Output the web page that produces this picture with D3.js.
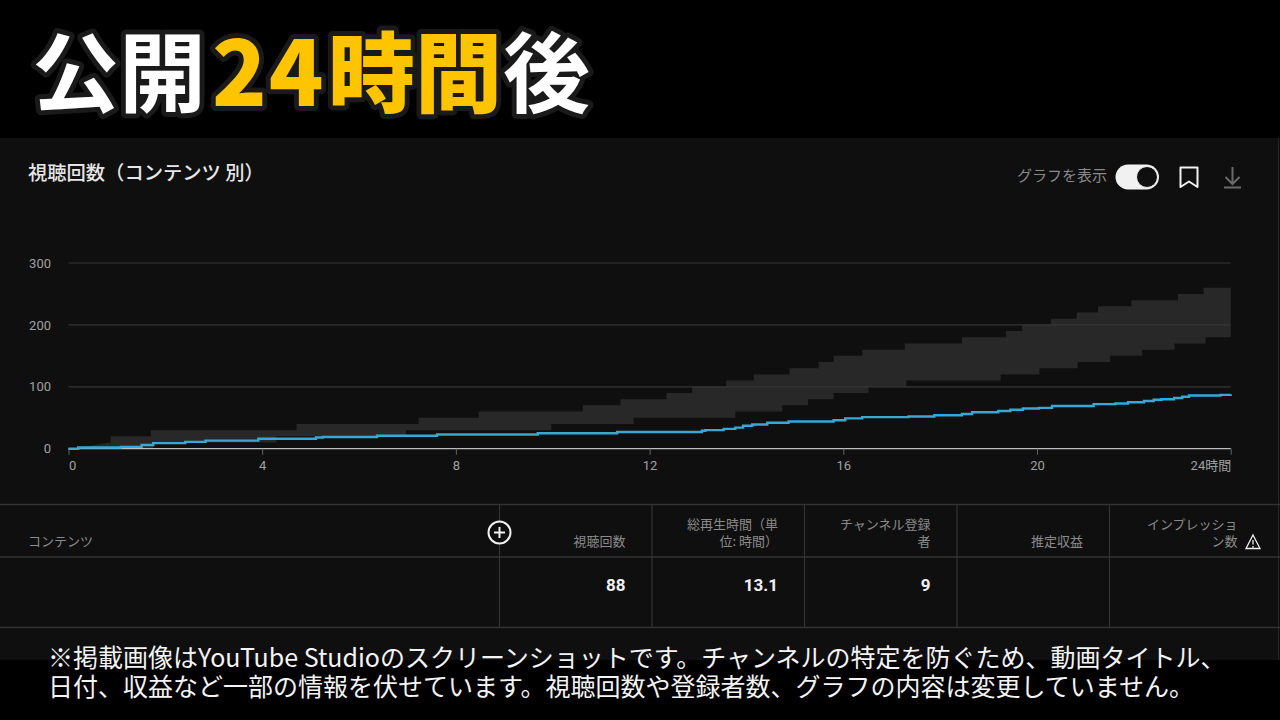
<!DOCTYPE html>
<html lang="ja"><head><meta charset="utf-8">
<script src="https://cdn.jsdelivr.net/npm/d3@7"></script>
<style>html,body{margin:0;padding:0;background:#000;overflow:hidden}svg{display:block}text{font-family:"Noto Sans CJK JP","Noto Sans",sans-serif}</style>
</head><body><svg id="c" width="1280" height="720"></svg>
<script>
const upperHours=[0,0.87,1.70,4.71,7.23,8.47,10.62,11.40,12.35,12.88,13.58,14.15,14.89,15.49,15.80,16.39,17.27,18.45,19.36,19.69,20.29,20.82,21.26,21.95,22.91,23.44,24];
const upperValues=[0,20,30,40,50,60,70,80,90,100,110,120,130,140,150,160,170,180,190,200,210,220,230,240,250,260,260];
const lowerHours=[0,1.75,4.29,6.97,9.97,11.67,13.77,14.74,15.27,15.80,16.52,17.30,19.25,20.05,20.84,21.51,22.17,22.84,23.48,24];
const lowerValues=[0,10,20,30,40,50,60,70,80,90,100,110,120,130,140,150,160,170,180,180];
const wedgeHours=[0.2,0.87];
const wedgeValues=[2,10];
const viewHours=[0,0.20,1.08,1.51,1.75,2.41,2.83,3.92,5.11,5.25,6.37,7.61,9.69,11.33,13.08,13.15,13.53,13.77,13.93,14.12,14.43,14.87,15.80,16.04,16.39,17.35,17.88,18.45,18.66,19.20,19.45,19.71,20.04,20.31,21.17,21.62,21.88,22.21,22.41,22.57,22.83,23.00,23.14,23.79,24];
const viewValues=[0,2,3,6,9,11,13,16,18,19,21,23,25,27,29,30,32,34,37,39,42,44,46,49,51,52,54,56,59,61,63,65,66,69,72,73,75,77,79,80,82,84,86,87,88];
const yTicks=[0,100,200,300];
const xTicks=[0,4,8,12,16,20,24];
const columnEdges=[499.5,652,804.5,957,1109.5];
const headerLines=[["視聴回数"],["総再生時間（単","位: 時間）"],["チャンネル登録","者"],["推定収益"],["インプレッショ","ン数"]];
const rowValues=["88","13.1","9","",""];
const captionLines=["※掲載画像はYouTube Studioのスクリーンショットです。チャンネルの特定を防ぐため、動画タイトル、","日付、収益など一部の情報を伏せています。視聴回数や登録者数、グラフの内容は変更していません。"];
const titleTexts=["公開","24","時間","後"];
const titleColors=["#ffffff","#ffc400","#ffc400","#ffffff"];

const svg=d3.select("#c");
svg.append("rect").attr("width",1280).attr("height",720).attr("fill","#000");
svg.append("rect").attr("y",138).attr("width",1280).attr("height",522).attr("fill","#0f0f0f");
svg.append("line").attr("x1",1278.5).attr("x2",1278.5).attr("y1",138).attr("y2",660).attr("stroke","#262626");

// title: heavier yellow run, digits slightly larger and tracked
const titleLeft=[32,212,328,503];
const titleSize=[87,90,87,87];
const titleWeight=[700,900,900,700];
const titleTrack=[0,2,0,0];
const title=svg.append("text").attr("y",106)
  .attr("stroke","#1a1a1a").attr("stroke-width",10).attr("stroke-linejoin","round").attr("paint-order","stroke");
title.selectAll("tspan").data(titleTexts).join("tspan")
  .attr("x",(d,i)=>titleLeft[i]).attr("font-size",(d,i)=>titleSize[i]).attr("font-weight",(d,i)=>titleWeight[i])
  .attr("letter-spacing",(d,i)=>titleTrack[i]).attr("fill",(d,i)=>titleColors[i]).text(d=>d);

svg.append("text").attr("x",28).attr("y",179.5).attr("font-size",19.3).attr("font-weight",500).attr("fill","#e6e6e6").text("視聴回数（コンテンツ 別）");

// toolbar
svg.append("text").attr("x",1107).attr("y",181).attr("text-anchor","end").attr("font-size",15).attr("fill","#8a8a8a").text("グラフを表示");
svg.append("rect").attr("x",1115.5).attr("y",164.5).attr("width",43.5).attr("height",25).attr("rx",12.5).attr("fill","#f1f1f1");
svg.append("circle").attr("cx",1147).attr("cy",177).attr("r",10.5).attr("fill","#0f0f0f").attr("stroke","#f1f1f1").attr("stroke-width",1);
svg.append("path").attr("d","M1180.5 167.5H1197.5V187L1189 181.5L1180.5 187Z").attr("fill","none").attr("stroke","#f1f1f1").attr("stroke-width",2).attr("stroke-linejoin","round");
svg.append("path").attr("d","M1232.5 167V184M1225.5 177L1232.5 184L1239.5 177M1224 187.5H1241").attr("fill","none").attr("stroke","#6a6a6a").attr("stroke-width",2);

// chart
const x=d3.scaleLinear().domain([0,24]).range([68.5,1230.7]);
const y=d3.scaleLinear().domain([0,300]).range([448.7,263]);
const hours=Array.from(new Set(upperHours.concat(lowerHours))).sort(d3.ascending);
const stepVal=(hs,vs,h)=>vs[d3.bisectRight(hs,h)-1];
const area=d3.area().curve(d3.curveStepAfter).x(d=>x(d)).y0(d=>y(stepVal(lowerHours,lowerValues,d))).y1(d=>y(stepVal(upperHours,upperValues,d)));
svg.append("path").datum(hours).attr("d",area).attr("fill","#282828");
svg.append("path").datum(d3.range(wedgeHours.length))
  .attr("d",d3.area().x(i=>x(wedgeHours[i])).y0(y(0)).y1(i=>y(wedgeValues[i]))).attr("fill","#282828");

const gy=svg.append("g").call(d3.axisLeft(y).tickValues(yTicks).tickSize(0).tickPadding(0));
gy.attr("transform","translate(51,0)");
gy.select(".domain").remove();
gy.selectAll("text").attr("font-size",13).attr("fill","#a0a0a0").style("font-family","Roboto,sans-serif").attr("x",0);
svg.append("g").selectAll("line").data(yTicks.filter(d=>d>0)).join("line")
  .attr("x1",x(0)).attr("x2",x(24)).attr("y1",d=>y(d)).attr("y2",d=>y(d)).attr("stroke","#363636").attr("stroke-width",1.2);

const gx=svg.append("g").attr("transform",`translate(0,${y(0)})`)
  .call(d3.axisBottom(x).tickValues(xTicks).tickSize(6).tickPadding(6).tickFormat(d=>d===24?"24時間":d));
gx.select(".domain").attr("stroke","#bdbdbd").attr("stroke-width",1.3).attr("d",`M${x(0)},0H${x(24)}`);
gx.selectAll(".tick line").attr("stroke","#666");
gx.selectAll("text").attr("font-size",13).attr("fill","#a0a0a0").style("font-family",'Roboto,"Noto Sans CJK JP",sans-serif')
  .attr("text-anchor",d=>d===0?"start":d===24?"end":"middle");

const line=d3.line().curve(d3.curveStepAfter).x(i=>x(viewHours[i])).y(i=>y(viewValues[i]));
svg.append("path").datum(d3.range(viewHours.length)).attr("d",line).attr("fill","none").attr("stroke","#3aa8d4").attr("stroke-width",2.4);

// table
const rules=[504.5,557,627.5];
svg.append("g").selectAll("line").data(rules).join("line").attr("x1",0).attr("x2",1280).attr("y1",d=>d).attr("y2",d=>d).attr("stroke","#333").attr("stroke-width",1.3);
svg.append("g").selectAll("line").data(columnEdges).join("line").attr("x1",d=>d).attr("x2",d=>d).attr("y1",504.5).attr("y2",627.5).attr("stroke","#333").attr("stroke-width",1.2);
svg.append("text").attr("x",28).attr("y",545.5).attr("font-size",13).attr("fill","#8a8a8a").text("コンテンツ");
columnEdges.forEach((e,i)=>{
  const rx=(i<4?columnEdges[i+1]:1262)-26.5;
  const ls=headerLines[i];
  ls.forEach((t,j)=>svg.append("text").attr("x",i===4?1237.5:rx).attr("y",ls.length===2?528.5+j*17.5:545.5).attr("text-anchor","end").attr("font-size",13).attr("fill","#8a8a8a").text(t));
  if(rowValues[i]) svg.append("text").attr("x",rx).attr("y",591).attr("text-anchor","end").attr("font-size",17).attr("font-weight",700).attr("fill","#f1f1f1").style("font-family","Roboto,sans-serif").text(rowValues[i]);
});
svg.append("circle").attr("cx",499.5).attr("cy",532.5).attr("r",11).attr("fill","#0f0f0f").attr("stroke","#f1f1f1").attr("stroke-width",2);
svg.append("path").attr("d","M494 532.5H505M499.5 527V538").attr("stroke","#f1f1f1").attr("stroke-width",2);
svg.append("path").attr("d","M1253 535L1260 548.5H1246Z M1253 540V544.5 M1253 546V547.5").attr("fill","none").attr("stroke","#eee").attr("stroke-width",1.3);

// caption
svg.append("g").selectAll("text").data(captionLines).join("text").attr("x",48).attr("y",(d,i)=>667+i*29)
  .attr("font-size",25).attr("fill","#f4f4f4").text(d=>d);
</script></body></html>
